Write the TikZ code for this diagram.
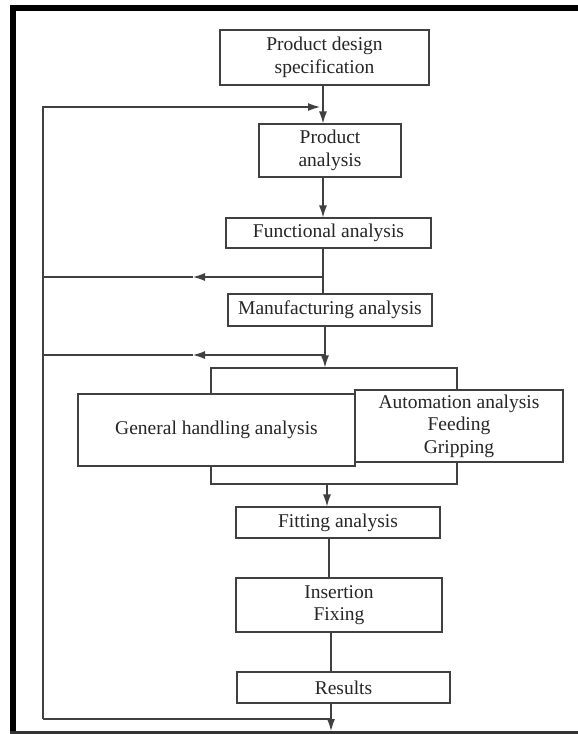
\documentclass[tikz,border=0pt]{standalone}
\usepackage{fontspec}
\setmainfont{Liberation Serif}
\usetikzlibrary{arrows.meta}
\begin{document}
\begin{tikzpicture}[x=1pt,y=-1pt,
  box/.style={draw=black!75, line width=1.1pt, inner sep=0pt, align=center,
    font=\fontsize{19.5}{22.5}\selectfont, text=black!85, fill=white},
  flow/.style={draw=black!75, line width=1.1pt},
  arr/.style={flow, -{Latex[length=12pt,width=8pt]}}]
\useasboundingbox (0,0) rectangle (578,734);
% outer frame
\draw[line width=6pt] (13,734) -- (13,7.5) -- (578,7.5);
\draw[line width=3pt, black!80] (10,732) -- (578,732);
% boxes
\node[box, minimum width=209pt, minimum height=55pt] (pds) at (324.5,57.5) {Product design\\specification};
\node[box, minimum width=142pt, minimum height=53pt] (pa) at (330,150.5) {Product\\analysis};
\node[box, minimum width=205pt, minimum height=30pt] (fa) at (328.5,233) {Functional analysis};
\node[box, minimum width=204pt, minimum height=32pt] (mfg) at (330,310) {Manufacturing analysis};
\node[box, minimum width=246pt, minimum height=116pt] (blk) at (334,426) {};
\node[box, minimum width=277pt, minimum height=72pt] (gh) at (216.5,430) {General handling analysis};
\node[box, minimum width=208pt, minimum height=72pt] (aa) at (459,426) {Automation analysis\\Feeding\\Gripping};
\node[box, minimum width=204pt, minimum height=31pt] (fit) at (338,522.5) {Fitting analysis};
\node[box, minimum width=206pt, minimum height=54pt] (ins) at (339,605) {Insertion\\Fixing};
\node[box, minimum width=213pt, minimum height=31pt] (res) at (343.5,687.5) {Results};
% helper coordinates
\coordinate (cA) at (323,0);
\coordinate (cB) at (325,0);
\coordinate (cC) at (327,0);
\coordinate (cD) at (329,0);
\coordinate (cE) at (331,0);
\coordinate (lb) at (43,719);
\coordinate (lt) at (43,107);
\coordinate (ft) at (320,107);
\coordinate (rb) at (331,719);
\coordinate (out) at (331,731);
\coordinate (b1) at (323,277);
\coordinate (b1m) at (193,277);
\coordinate (b1l) at (43,277);
\coordinate (b2) at (325,355);
\coordinate (b2m) at (193,355);
\coordinate (b2l) at (43,355);
% connectors
\draw[arr] (pds.south -| cA) -- (pa.north -| cA);
\draw[arr] (pa.south -| cA) -- (fa.north -| cA);
\draw[flow] (fa.south -| cA) -- (mfg.north -| cA);
\draw[arr] (mfg.south -| cB) -- (blk.north -| cB);
\draw[arr] (blk.south -| cC) -- (fit.north -| cC);
\draw[flow] (fit.south -| cD) -- (ins.north -| cD);
\draw[flow] (ins.south -| cE) -- (res.north -| cE);
\draw[arr] (res.south -| cE) -- (out);
% feedback loop
\draw[flow] (rb) -- (lb);
\draw[arr] (lb) -- (lt) -- (ft);
\draw[arr] (b1) -- (b1m);
\draw[flow] (b1m) -- (b1l);
\draw[arr] (b2) -- (b2m);
\draw[flow] (b2m) -- (b2l);
\end{tikzpicture}
\end{document}
